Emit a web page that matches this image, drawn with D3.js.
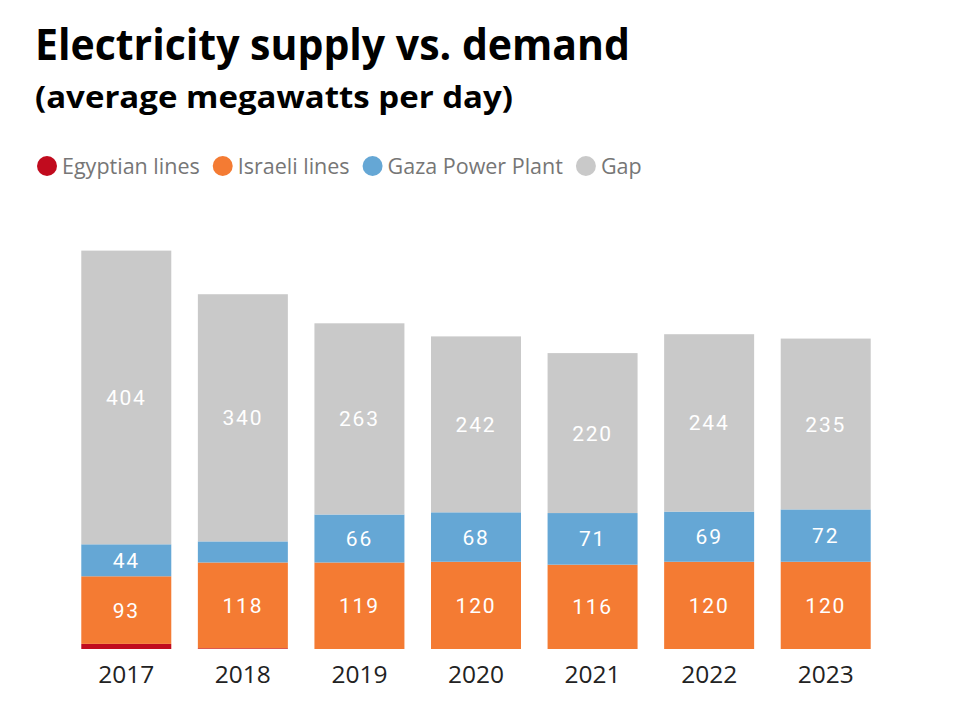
<!DOCTYPE html>
<html>
<head>
<meta charset="utf-8">
<script src="https://cdn.jsdelivr.net/npm/d3@7"></script>
<style>
    body { margin: 0; background: #fff; }
    svg { display: block; }
</style>
</head>
<body>
<div id="chart"></div>
<script>
const WIDTH = 960;
const HEIGHT = 720;

const years = ["2017", "2018", "2019", "2020", "2021", "2022", "2023"];
const egyptian = [7, 1, 0, 0, 0, 0, 0];
const israeli = [93, 118, 119, 120, 116, 120, 120];
const gazaPlant = [44, 29, 66, 68, 71, 69, 72];
const gap = [404, 340, 263, 242, 220, 244, 235];

const seriesNames = ["Egyptian lines", "Israeli lines", "Gaza Power Plant", "Gap"];
const seriesColors = ["#c10b1e", "#f47b33", "#65a7d5", "#c9c9c9"];
// segments smaller than this are left without a label
const MIN_LABEL_VALUE = 35;

const rows = years.map((year, i) => ({
    year: year,
    "Egyptian lines": egyptian[i],
    "Israeli lines": israeli[i],
    "Gaza Power Plant": gazaPlant[i],
    "Gap": gap[i]
}));

const stacked = d3.stack().keys(seriesNames)(rows);

const svg = d3.select("#chart")
    .append("svg")
    .attr("width", WIDTH)
    .attr("height", HEIGHT);

// Title and subtitle
svg.append("text")
    .attr("x", 35)
    .attr("y", 60)
    .attr("font-family", "Open Sans")
    .attr("font-weight", 700)
    .attr("font-size", 43)
    .attr("fill", "#000")
    .attr("textLength", 595)
    .attr("lengthAdjust", "spacingAndGlyphs")
    .text("Electricity supply vs. demand");

svg.append("text")
    .attr("x", 35)
    .attr("y", 108)
    .attr("font-family", "Open Sans")
    .attr("font-weight", 700)
    .attr("font-size", 31)
    .attr("fill", "#000")
    .attr("textLength", 478)
    .attr("lengthAdjust", "spacingAndGlyphs")
    .text("(average megawatts per day)");

// Legend
const legend = svg.append("g").attr("transform", "translate(37,166)");
let legendX = 0;
seriesNames.forEach((name, i) => {
    const item = legend.append("g").attr("transform", `translate(${legendX},0)`);
    item.append("circle")
        .attr("cx", 10)
        .attr("cy", 0)
        .attr("r", 10)
        .attr("fill", seriesColors[i]);
    const label = item.append("text")
        .attr("x", 25)
        .attr("y", 7.5)
        .attr("font-family", "Open Sans")
        .attr("font-size", 21.5)
        .attr("fill", "#767676")
        .text(name);
    legendX += 25 + label.node().getComputedTextLength() + 13;
});

// Scales
const x = d3.scaleBand()
    .domain(years)
    .range([68, 884])
    .paddingInner(0.228)
    .paddingOuter(0.114);

const y = d3.scaleLinear()
    .domain([0, 550])
    .range([649, 649 - 550 * 0.727]);

// Bars
const layers = svg.append("g")
    .selectAll("g")
    .data(stacked)
    .join("g")
    .attr("fill", (d, i) => seriesColors[i]);

layers.selectAll("rect")
    .data(d => d)
    .join("rect")
    .attr("x", d => x(d.data.year))
    .attr("width", x.bandwidth())
    .attr("y", d => y(d[1]))
    .attr("height", d => y(d[0]) - y(d[1]));

// Segment labels
const labelLayers = svg.append("g")
    .selectAll("g")
    .data(stacked)
    .join("g");

labelLayers.selectAll("text")
    .data(d => d.map(seg => ({ seg: seg, value: seg[1] - seg[0] })))
    .join("text")
    .filter(d => d.value >= MIN_LABEL_VALUE)
    .attr("x", d => x(d.seg.data.year) + x.bandwidth() / 2)
    .attr("y", d => (y(d.seg[0]) + y(d.seg[1])) / 2)
    .attr("dy", "0.36em")
    .attr("text-anchor", "middle")
    .attr("font-family", "Roboto")
    .attr("font-size", 21)
    .attr("letter-spacing", 1.8)
    .attr("fill", "#fff")
    .text(d => d.value);

// Year axis
const axis = svg.append("g")
    .attr("transform", "translate(0,649)")
    .call(d3.axisBottom(x).tickSize(0).tickPadding(17));

axis.select(".domain").remove();
axis.selectAll("text")
    .attr("font-family", "Open Sans")
    .attr("font-size", 24.5)
    .attr("fill", "#222");
</script>
</body>
</html>
